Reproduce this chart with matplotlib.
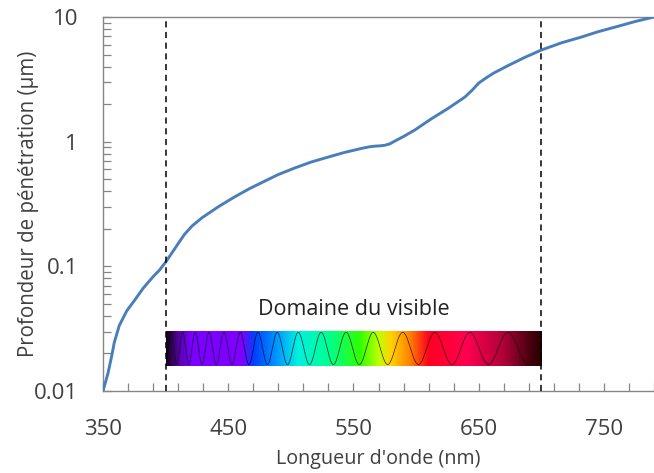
import matplotlib

matplotlib.use("Agg")
import matplotlib.pyplot as plt
import numpy as np
from matplotlib.colors import LinearSegmentedColormap
from matplotlib.ticker import FixedLocator, FuncFormatter, LogLocator, NullFormatter

plt.rcParams["font.family"] = ["Open Sans", "DejaVu Sans"]

# penetration depth
WAVELENGTH = [350, 352, 354, 357, 359, 363, 369, 375, 382, 390, 395, 400, 405,
              410, 415, 421, 429, 442, 455, 467, 480, 490, 503, 516, 530, 543,
              557, 563, 567, 571, 575, 579, 583, 590, 599, 612, 626, 639, 645,
              650, 656, 662, 674, 687, 700, 716, 732, 745, 759, 775, 790]
DEPTH = [0.010, 0.0118, 0.0139, 0.0192, 0.0245, 0.0335, 0.044, 0.053, 0.0666,
         0.0826, 0.093, 0.108, 0.128, 0.152, 0.18, 0.21, 0.245, 0.30, 0.36,
         0.42, 0.487, 0.545, 0.614, 0.685, 0.753, 0.82, 0.885, 0.91, 0.92,
         0.925, 0.935, 0.96, 1.01, 1.10, 1.24, 1.52, 1.86, 2.28, 2.6, 2.95,
         3.25, 3.55, 4.1, 4.75, 5.43, 6.2, 6.9, 7.6, 8.3, 9.2, 10.0]

VISIBLE = [400, 700]
X_TICKS = [350, 450, 550, 650, 750]
Y_TICKS = [0.01, 0.1, 1, 10]

# spectrum bar colour stops (nm, colour)
SPECTRUM = [(400, "#1a0020"), (410, "#5a00b0"), (420, "#7a00ff"), (460, "#7f00ff"),
            (470, "#0040ff"), (490, "#00a0ff"), (505, "#00f0e0"), (530, "#00ff90"),
            (555, "#30ff00"), (570, "#c0ff00"), (580, "#ffd000"), (595, "#ff8000"),
            (610, "#ff0020"), (640, "#ff0050"), (670, "#b00038"), (690, "#500010"),
            (700, "#2a0000")]

GREY_TXT = "#404040"
SPINE = "#868686"
BLUE = "#4a7ebb"

fig = plt.figure(figsize=(6.54, 4.73), dpi=100)
ax = fig.add_axes([0.1575, 0.1734, 0.8425, 0.7907])

ax.plot(WAVELENGTH, DEPTH, color=BLUE, lw=2.1, zorder=3, solid_joinstyle="round")
for v in VISIBLE:
    ax.axvline(v, color="black", lw=1.1, ls=(0, (4, 3)), zorder=4)

ax.set_yscale("log")
ax.set_xlim(350, 790)
ax.set_ylim(0.01, 10)

ax.xaxis.set_major_locator(FixedLocator(np.arange(350, 791, 20)))
ax.xaxis.set_major_formatter(FuncFormatter(lambda v, p: f"{v:.0f}" if int(round(v)) in X_TICKS else ""))
ax.yaxis.set_major_locator(FixedLocator(Y_TICKS))
ax.yaxis.set_major_formatter(FuncFormatter(lambda v, p: f"{v:g}"))
ax.yaxis.set_minor_locator(LogLocator(base=10, subs=np.arange(2, 10)))
ax.yaxis.set_minor_formatter(NullFormatter())

ax.tick_params(axis="both", which="both", direction="in", color=SPINE, width=0.9,
               labelsize=16, labelcolor=GREY_TXT)
ax.tick_params(axis="both", which="major", length=6)
ax.tick_params(axis="x", which="major", pad=20)
ax.tick_params(axis="y", which="minor", length=6)
ax.tick_params(axis="y", which="major", pad=18)
for s in ["left", "bottom", "top"]:
    ax.spines[s].set_color(SPINE)
    ax.spines[s].set_linewidth(1.0)
ax.spines["right"].set_visible(False)

ax.set_xlabel("Longueur d'onde (nm)", fontsize=14.2, color=GREY_TXT, labelpad=7)
ax.set_ylabel("Profondeur de pénétration (µm)", fontsize=14.8, color=GREY_TXT, labelpad=-4)

# visible spectrum bar, placed in axes fraction (log y)
y0, y1 = 0.0159, 0.0303
fx0 = (VISIBLE[0] - 350) / 440
fw = (VISIBLE[1] - VISIBLE[0]) / 440
fy0 = (np.log10(y0) + 2) / 3
fh = (np.log10(y1) - np.log10(y0)) / 3
bar = ax.inset_axes([fx0, fy0, fw, fh], transform=ax.transAxes, zorder=2)
stops = [((w - 400) / 300, c) for w, c in SPECTRUM]
cmap = LinearSegmentedColormap.from_list("spec", stops)
lam = np.linspace(400, 700, 600)
bar.imshow(lam[None, :], aspect="auto", cmap=cmap, extent=[400, 700, -1, 1],
           vmin=400, vmax=700)
# chirped wave drawn over the bar
p0, k = 8.5, 0.085
phase = 2 * np.pi / k * np.log((p0 + k * (lam - 400)) / p0)
bar.plot(lam, 0.92 * np.sin(phase - np.pi / 2), color="black", lw=0.5, alpha=0.8)
bar.set_xlim(400, 700)
bar.set_ylim(-1, 1)
bar.axis("off")

ax.text(550, 0.045, "Domaine du visible", ha="center", va="center",
        fontsize=15.5, color="#222222")

fig.savefig("out.png", dpi=100)
